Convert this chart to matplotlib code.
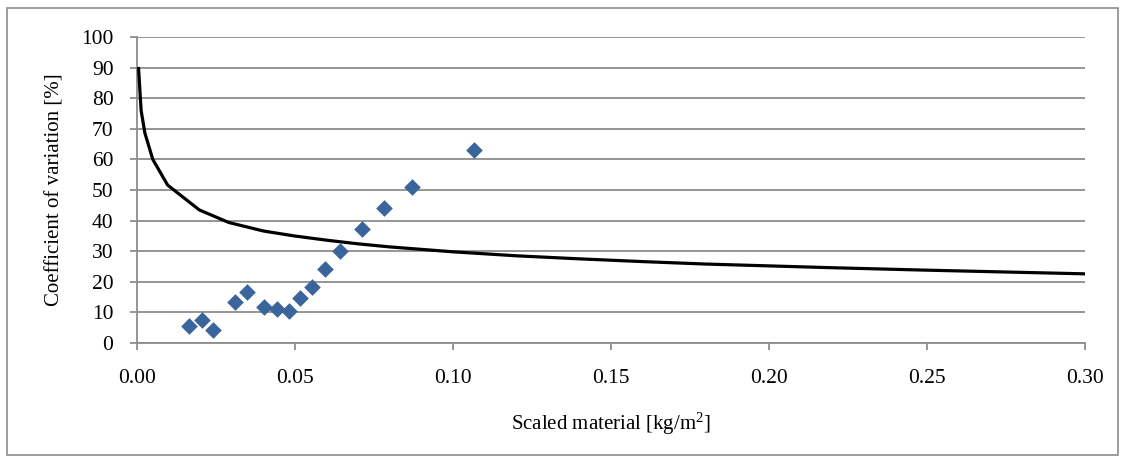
import numpy as np
import matplotlib.pyplot as plt
from matplotlib.patches import Rectangle

# measured points
meas_x = [0.0164, 0.0206, 0.0240, 0.0310, 0.0348, 0.0402, 0.0443, 0.0480,
          0.0515, 0.0553, 0.0594, 0.0642, 0.0711, 0.0781, 0.0869, 0.1065]
meas_y = [5.5, 7.5, 4.4, 13.5, 16.8, 11.8, 11.0, 10.3,
          14.8, 18.4, 24.2, 30.0, 37.3, 44.0, 51.0, 63.0]

# fitted curve
fit_x = [0.0005, 0.0013, 0.0025, 0.005, 0.0097, 0.0197, 0.029, 0.040, 0.0497,
         0.060, 0.070, 0.080, 0.090, 0.100, 0.120, 0.140, 0.160, 0.180,
         0.200, 0.220, 0.250, 0.300]
fit_y = [89.7, 76.0, 68.6, 60.0, 51.6, 43.5, 39.4, 36.6, 35.0,
         33.6, 32.4, 31.4, 30.6, 29.8, 28.5, 27.5, 26.6, 25.8,
         25.2, 24.6, 23.8, 22.6]

xticks = [0.00, 0.05, 0.10, 0.15, 0.20, 0.25, 0.30]
yticks = list(range(0, 101, 10))

plt.rcParams['font.family'] = ['Liberation Serif', 'DejaVu Serif']
plt.rcParams['mathtext.default'] = 'regular'

fig = plt.figure(figsize=(11.26, 4.61), dpi=100)
fig.patches.append(Rectangle((7/1126, 6/461), 1111/1126, 447/461, transform=fig.transFigure,
                             fill=False, edgecolor='#8c8c8c', linewidth=1.2))
ax = fig.add_axes([137/1126, 1 - 343/461, 948/1126, 306/461])

ax.plot(fit_x, fit_y, color='black', linewidth=2.3, zorder=3)
ax.scatter(meas_x, meas_y, marker='D', s=72, color='#3a659b', zorder=4, linewidths=0)

ax.set_xlim(0, 0.30)
ax.set_ylim(0, 100)
ax.set_xticks(xticks)
ax.set_xticklabels(['%.2f' % v for v in xticks])
ax.set_yticks(yticks)
ax.grid(axis='y', color='#8c8c8c', linewidth=1.3)
ax.set_axisbelow(True)
for s in ['top', 'right']:
    ax.spines[s].set_visible(False)
for s in ['left', 'bottom']:
    ax.spines[s].set_color('#8c8c8c')
    ax.spines[s].set_linewidth(1.3)
ax.tick_params(axis='both', colors='#8c8c8c', length=5, width=1.3, labelsize=15.5, labelcolor='black')
ax.tick_params(axis='x', pad=14)
ax.tick_params(axis='y', pad=12)
ax.set_xlabel('Scaled material [kg/m$^2$]', fontsize=15, labelpad=16)
ax.set_ylabel('Coefficient of variation [%]', fontsize=15, labelpad=12)

fig.savefig('out.png', dpi=100)
